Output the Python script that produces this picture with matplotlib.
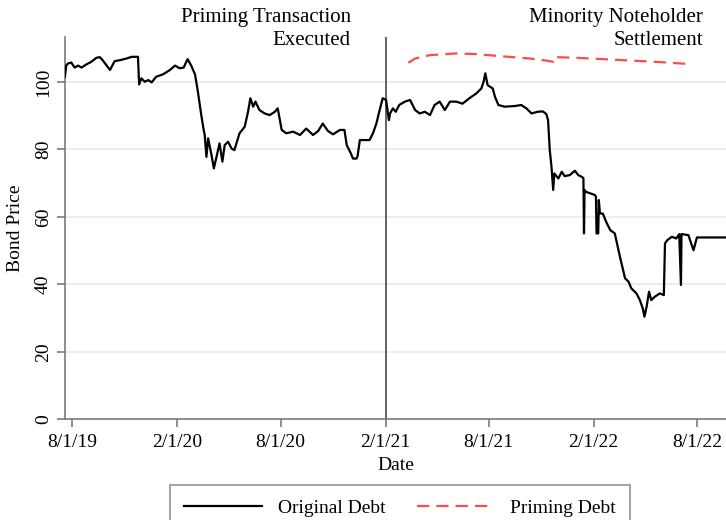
import pandas as pd
import numpy as np
import matplotlib
matplotlib.use("Agg")
import matplotlib.pyplot as plt

plt.rcParams['font.family'] = ['Liberation Serif', 'DejaVu Serif']

# Original debt price
orig_dates = [
    "2019-07-20", "2019-07-22", "2019-07-25", "2019-07-31", "2019-08-06", "2019-08-12",
    "2019-08-18", "2019-08-27", "2019-09-04", "2019-09-13", "2019-09-19", "2019-09-24",
    "2019-10-07", "2019-10-15", "2019-10-27", "2019-11-05", "2019-11-14", "2019-11-25",
    "2019-11-27", "2019-12-01", "2019-12-07", "2019-12-13", "2019-12-19", "2019-12-27",
    "2020-01-08", "2020-01-20", "2020-01-29", "2020-02-06", "2020-02-13", "2020-02-20",
    "2020-02-26", "2020-03-04", "2020-03-09", "2020-03-15", "2020-03-19", "2020-03-21",
    "2020-03-24", "2020-03-27", "2020-04-02", "2020-04-06", "2020-04-10", "2020-04-16",
    "2020-04-21", "2020-04-25", "2020-05-01", "2020-05-07", "2020-05-12", "2020-05-21",
    "2020-05-30", "2020-06-05", "2020-06-09", "2020-06-14", "2020-06-18", "2020-06-25",
    "2020-07-04", "2020-07-13", "2020-07-22", "2020-07-27", "2020-08-03", "2020-08-11",
    "2020-08-23", "2020-09-04", "2020-09-15", "2020-09-27", "2020-10-06", "2020-10-14",
    "2020-10-23", "2020-11-01", "2020-11-13", "2020-11-21", "2020-11-25", "2020-12-01",
    "2020-12-06", "2020-12-12", "2020-12-14", "2020-12-18", "2020-12-26", "2021-01-04",
    "2021-01-10", "2021-01-16", "2021-01-21", "2021-01-27", "2021-02-02", "2021-02-07",
    "2021-02-09", "2021-02-14", "2021-02-19", "2021-02-25", "2021-03-07", "2021-03-16",
    "2021-03-25", "2021-04-02", "2021-04-11", "2021-04-20", "2021-04-28", "2021-05-07",
    "2021-05-16", "2021-05-25", "2021-06-05", "2021-06-16", "2021-06-28", "2021-07-10",
    "2021-07-19", "2021-07-23", "2021-07-26", "2021-07-30", "2021-08-08", "2021-08-12",
    "2021-08-18", "2021-08-29", "2021-09-16", "2021-09-27", "2021-10-06", "2021-10-15",
    "2021-10-26", "2021-11-04", "2021-11-10", "2021-11-13", "2021-11-16", "2021-11-19",
    "2021-11-22", "2021-11-24", "2021-12-01", "2021-12-07", "2021-12-12", "2021-12-21",
    "2021-12-30", "2022-01-05", "2022-01-11", "2022-01-14", "2022-01-15", "2022-01-16",
    "2022-01-19", "2022-02-03", "2022-02-05", "2022-02-06", "2022-02-09", "2022-02-10",
    "2022-02-12", "2022-02-17", "2022-02-23", "2022-03-02", "2022-03-10", "2022-03-19",
    "2022-03-28", "2022-04-03", "2022-04-08", "2022-04-17", "2022-04-23", "2022-04-28",
    "2022-05-01", "2022-05-05", "2022-05-09", "2022-05-13", "2022-05-19", "2022-05-28",
    "2022-06-04", "2022-06-06", "2022-06-10", "2022-06-18", "2022-06-26", "2022-07-01",
    "2022-07-04", "2022-07-05", "2022-07-17", "2022-07-26", "2022-08-01", "2022-09-22",
]
orig_price = [
    101.6, 104.8, 105.5, 105.8, 104.3, 104.9,
    104.3, 105.3, 106.0, 107.2, 107.4, 106.5,
    103.6, 106.2, 106.6, 107.0, 107.5, 107.5,
    99.3, 101.1, 100.1, 100.6, 99.9, 101.6,
    102.3, 103.6, 104.9, 104.1, 104.3, 106.8,
    105.0, 102.3, 97.2, 90.2, 86.0, 84.3,
    77.8, 83.3, 78.3, 74.4, 77.3, 81.8,
    76.4, 81.3, 82.3, 80.3, 79.8, 84.8,
    86.7, 91.2, 95.2, 92.7, 94.2, 91.7,
    90.7, 90.2, 91.2, 92.2, 85.8, 84.8,
    85.3, 84.3, 86.2, 84.3, 85.5, 87.7,
    85.5, 84.5, 85.8, 85.8, 81.3, 79.3,
    77.3, 77.3, 78.0, 82.8, 82.8, 82.8,
    84.8, 87.7, 91.2, 95.2, 94.7, 88.7,
    90.7, 92.2, 91.2, 93.2, 94.2, 94.7,
    91.7, 90.7, 91.2, 90.2, 93.2, 94.2,
    91.7, 94.2, 94.2, 93.6, 95.2, 96.6,
    98.1, 100.1, 102.6, 99.1, 98.1, 95.6,
    93.2, 92.7, 92.9, 93.2, 92.2, 90.7,
    91.2, 91.3, 90.5, 88.7, 79.8, 74.9,
    68.0, 72.9, 71.4, 73.4, 72.1, 72.4,
    73.7, 72.4, 71.9, 71.5, 55.1, 68.0,
    67.4, 66.5, 66.0, 55.1, 55.1, 65.0,
    61.0, 61.0, 58.5, 56.1, 55.1, 48.2,
    41.8, 40.8, 38.8, 37.3, 35.3, 32.9,
    30.4, 33.5, 37.8, 35.3, 36.3, 37.3,
    36.8, 52.1, 53.1, 54.1, 53.6, 54.9,
    39.8, 54.9, 54.6, 50.1, 53.9, 53.9,
]

# Priming debt price
prime_dates = [
    "2021-03-13", "2021-03-25", "2021-04-20", "2021-06-05", "2021-07-10", "2021-08-21",
    "2021-10-12", "2021-11-13", "2021-11-22", "2021-11-24", "2022-01-02", "2022-03-25",
    "2022-05-23", "2022-07-23",
]
prime_price = [
    105.7, 107.0, 108.0, 108.5, 108.3, 107.7,
    107.0, 106.3, 106.0, 107.4, 107.2, 106.5,
    106.0, 105.3,
]

tick_dates = ["2019-08-01", "2020-02-01", "2020-08-01", "2021-02-01",
              "2021-08-01", "2022-02-01", "2022-08-01"]
tick_labels = ["8/1/19", "2/1/20", "8/1/20", "2/1/21", "8/1/21", "2/1/22", "8/1/22"]
event_date = "2021-02-01"

fig = plt.figure(figsize=(7.26, 5.2), dpi=100)
ax = fig.add_axes([0.0895, 0.194, 0.9105, 0.735])

ax.plot(pd.to_datetime(orig_dates), orig_price, color='black', lw=1.6,
        label='Original Debt', zorder=3)
ax.plot(pd.to_datetime(prime_dates), prime_price, color='#ff4a4a', lw=1.6,
        dashes=(5.5, 3.2), label='Priming Debt', zorder=3)

ax.axvline(pd.Timestamp(event_date), color='#555555', lw=1.3, zorder=2)

ax.set_xlim(pd.Timestamp("2019-07-20"), pd.Timestamp("2022-09-21"))
ax.set_ylim(0, 113.4)

ax.set_yticks([0, 20, 40, 60, 80, 100])
ax.set_yticklabels(["0", "20", "40", "60", "80", "100"], rotation=90, va='center')
ax.set_xticks(pd.to_datetime(tick_dates))
ax.set_xticklabels(tick_labels)

for y in [20, 40, 60, 80, 100]:
    ax.axhline(y, color='#ebebeb', lw=1.3, zorder=1)

for s in ['top', 'right']:
    ax.spines[s].set_visible(False)
for s in ['left', 'bottom']:
    ax.spines[s].set_color('#7a7a7a')
    ax.spines[s].set_linewidth(1.2)

ax.tick_params(axis='both', colors='#7a7a7a', length=6, width=1.2, labelsize=14,
               labelcolor='black')
ax.tick_params(axis='x', pad=5)

ax.set_ylabel("Bond Price", fontsize=14, labelpad=8)
ax.set_xlabel("Date", fontsize=14, labelpad=4)

ax.annotate("Priming Transaction\nExecuted", xy=(pd.Timestamp(event_date), 1.0),
            xycoords=('data', 'axes fraction'), xytext=(-25, 21),
            textcoords='offset points', ha='right', va='top', fontsize=15,
            linespacing=1.3, annotation_clip=False)
ax.annotate("Minority Noteholder\nSettlement", xy=(0.965, 1.0),
            xycoords='axes fraction', xytext=(0, 21),
            textcoords='offset points', ha='right', va='top', fontsize=15,
            linespacing=1.3, annotation_clip=False)

leg = fig.legend(loc='upper center', bbox_to_anchor=(0.551, 0.068), ncol=2,
                 fontsize=14, frameon=True, fancybox=False, edgecolor='#7a7a7a',
                 handlelength=4.0, columnspacing=1.6, borderpad=0.75,
                 borderaxespad=0)
leg.get_frame().set_linewidth(1.2)

fig.savefig("out.png", dpi=100)
